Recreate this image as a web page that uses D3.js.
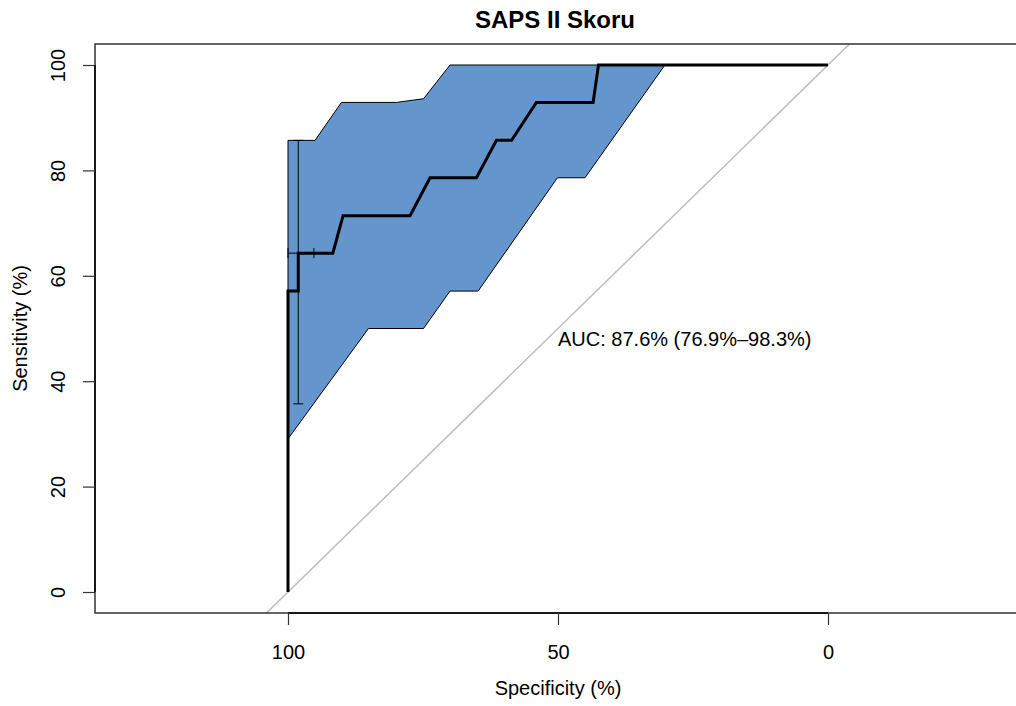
<!DOCTYPE html>
<html>
<head>
<meta charset="utf-8">
<script src="https://cdn.jsdelivr.net/npm/d3@7"></script>
<style>
  body { margin: 0; background: #fff; }
  text { font-family: "Liberation Sans", Arial, sans-serif; fill: #000; }
</style>
</head>
<body>
<div id="chart"></div>
<script>
// ROC curve (specificity %, sensitivity %)
var rocSpec = [100, 100, 98.1, 98.1, 91.7, 89.8, 77.4, 73.7, 65.1, 61.4, 58.6, 54.0, 43.5, 42.5, 0];
var rocSens = [0, 57.1, 57.1, 64.3, 64.3, 71.4, 71.4, 78.6, 78.6, 85.7, 85.7, 92.9, 92.9, 100, 100];

// confidence band of sensitivity
var upperSpec = [100, 95.0, 90.1, 79.9, 74.9, 70.0, 30.2];
var upperSens = [85.7, 85.7, 92.9, 92.9, 93.6, 100, 100];
var lowerSpec = [30.2, 45.0, 50.1, 64.8, 70.0, 74.9, 85.1, 99.9, 100];
var lowerSens = [100, 78.6, 78.6, 57.1, 57.1, 50.0, 50.0, 29.2, 29.2];

// CI bars at the best threshold
var ciSpecAt = 98.1, ciSensLow = 35.7, ciSensHigh = 85.7;
var ciSensAt = 64.3, ciSpecLow = 95.2, ciSpecHigh = 100;

var xTicks = [100, 50, 0];
var yTicks = [0, 20, 40, 60, 80, 100];
var aucLabel = "AUC: 87.6% (76.9%\u201398.3%)";
var title = "SAPS II Skoru";

var svgWidth = 1016, svgHeight = 706;
var box = {left: 95, right: 1022, top: 44, bottom: 613};

var svg = d3.select("#chart").append("svg")
    .attr("width", svgWidth)
    .attr("height", svgHeight);

var xScale = d3.scaleLinear().domain([100, 0]).range([288, 828]);
var yScale = d3.scaleLinear().domain([0, 100]).range([592, 65]);

svg.append("clipPath").attr("id", "clip")
  .append("rect")
    .attr("x", box.left).attr("y", box.top)
    .attr("width", box.right - box.left).attr("height", box.bottom - box.top);

var plot = svg.append("g").attr("clip-path", "url(#clip)");

// band polygon
var bandPts = upperSpec.map((s, i) => [s, upperSens[i]])
  .concat(lowerSpec.map((s, i) => [s, lowerSens[i]]));
var line = d3.line().x(d => xScale(d[0])).y(d => yScale(d[1]));

plot.append("path")
    .attr("d", line(bandPts) + "Z")
    .attr("fill", "#6495cd")
    .attr("stroke", "#000")
    .attr("stroke-width", 1);

// chance diagonal
plot.append("line")
    .attr("x1", xScale(140)).attr("y1", yScale(-40))
    .attr("x2", xScale(-40)).attr("y2", yScale(140))
    .attr("stroke", "#bebebe")
    .attr("stroke-width", 1.5);

// ROC curve
plot.append("path")
    .attr("d", line(rocSpec.map((s, i) => [s, rocSens[i]])))
    .attr("fill", "none")
    .attr("stroke", "#000")
    .attr("stroke-width", 3);

// CI bars
var bars = plot.append("g").attr("stroke", "#000").attr("stroke-width", 1);
var cap = 5;
bars.append("line")
    .attr("x1", xScale(ciSpecAt)).attr("x2", xScale(ciSpecAt))
    .attr("y1", yScale(ciSensLow)).attr("y2", yScale(ciSensHigh));
[ciSensLow, ciSensHigh].forEach(function(v) {
  bars.append("line")
      .attr("x1", xScale(ciSpecAt) - cap).attr("x2", xScale(ciSpecAt) + cap)
      .attr("y1", yScale(v)).attr("y2", yScale(v));
});
bars.append("line")
    .attr("x1", xScale(ciSpecLow)).attr("x2", xScale(ciSpecHigh))
    .attr("y1", yScale(ciSensAt)).attr("y2", yScale(ciSensAt));
[ciSpecLow, ciSpecHigh].forEach(function(v) {
  bars.append("line")
      .attr("x1", xScale(v)).attr("x2", xScale(v))
      .attr("y1", yScale(ciSensAt) - cap).attr("y2", yScale(ciSensAt) + cap);
});

// box
svg.append("rect")
    .attr("x", box.left).attr("y", box.top)
    .attr("width", box.right - box.left).attr("height", box.bottom - box.top)
    .attr("fill", "none")
    .attr("stroke", "#333")
    .attr("stroke-width", 1.5);

// axes
var bottomAxis = d3.axisBottom(xScale).tickValues(xTicks).tickSize(12).tickPadding(20);
var gx = svg.append("g")
    .attr("transform", `translate(0,${box.bottom})`)
    .call(bottomAxis);

var leftAxis = d3.axisLeft(yScale).tickValues(yTicks).tickSize(12);
var gy = svg.append("g")
    .attr("transform", `translate(${box.left},0)`)
    .call(leftAxis);

[gx, gy].forEach(function(g) {
  g.select(".domain").attr("stroke", "#000").attr("stroke-width", 1.5);
  g.selectAll(".tick line").attr("stroke", "#333").attr("stroke-width", 1.2);
  g.selectAll("text").style("font-size", "20px").attr("font-family", null).attr("fill", "#000");
});
gx.select(".domain").attr("d", `M${xScale(100)},0H${xScale(0)}`);
gy.select(".domain").attr("d", `M0,${yScale(0)}V${yScale(100)}`);

gx.selectAll(".tick text").attr("dy", null).attr("y", 46);
gy.selectAll(".tick text")
    .attr("x", null).attr("dy", null)
    .attr("text-anchor", "middle")
    .attr("transform", "translate(-30,0) rotate(-90)");

// AUC text
svg.append("text")
    .attr("x", xScale(50))
    .attr("y", yScale(50) + 17)
    .style("font-size", "20px")
    .text(aucLabel);

// title
svg.append("text")
    .attr("x", (box.left + 1015) / 2)
    .attr("y", 28)
    .attr("text-anchor", "middle")
    .style("font-size", "24px")
    .style("font-weight", "bold")
    .text(title);

// axis labels
svg.append("text")
    .attr("x", xScale(50))
    .attr("y", 695)
    .attr("text-anchor", "middle")
    .style("font-size", "20px")
    .text("Specificity (%)");

svg.append("text")
    .attr("transform", `translate(27,${(box.top + box.bottom) / 2}) rotate(-90)`)
    .attr("text-anchor", "middle")
    .style("font-size", "20px")
    .text("Sensitivity (%)");
</script>
</body>
</html>
